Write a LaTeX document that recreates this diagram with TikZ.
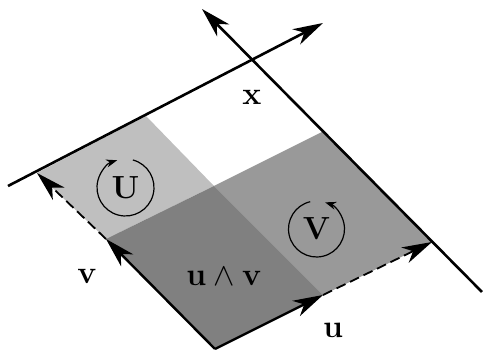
\documentclass[tikz,border=0pt]{standalone}
\usepackage{fix-cm}
\usepackage{tikz}
\usetikzlibrary{arrows.meta}

\begin{document}
\begin{tikzpicture}[
  x=1pt,y=1pt,
  axis/.style={line width=2.6pt,-{Stealth[length=30pt,width=17pt,inset=9pt]}},
  vec/.style={axis,line width=2.4pt},
  guide/.style={vec,line width=1.8pt,dash pattern=on 10pt off 5pt},
  spin/.style={line width=1.2pt,-{Stealth[length=11pt,width=8pt]}},
  lbl/.style={font=\fontsize{32}{38}\selectfont\bfseries}
]
  \useasboundingbox (0,0) rectangle (483,350);

  % corners of the plane pieces
  \coordinate (o)  at (215,1);
  \coordinate (ue) at (323,55);
  \coordinate (ve) at (106,111);
  \coordinate (mid) at (214,164);
  \coordinate (utop) at (146,234);
  \coordinate (uend) at (37,177);
  \coordinate (vtop) at (322,218);
  \coordinate (vend) at (432,108);
  % ends of the two long lines
  \coordinate (pa) at (8,164);
  \coordinate (pb) at (323,327);
  \coordinate (qa) at (482,58);
  \coordinate (qb) at (202,341);

  \fill[black!25] (ve) -- (mid) -- (utop) -- (uend) -- cycle;
  \fill[black!40] (ue) -- (mid) -- (vtop) -- (vend) -- cycle;
  \fill[black!50] (o) -- (ue) -- (mid) -- (ve) -- cycle;

  \draw[axis] (pa) -- (pb);
  \draw[axis] (qa) -- (qb);
  \draw[vec] (o) -- (ue);
  \draw[vec] (o) -- (ve);
  \draw[guide] (ue) -- (vend);
  \draw[guide] (ve) -- (uend);

  \node[lbl] (U) at (125.5,162.5) {U};
  \node[lbl] (V) at (316.5,121) {V};
  \draw[spin] ([shift={(75:28.5)}]U.center) arc[start angle=75,end angle=-253,radius=28.5];
  \draw[spin] ([shift={(103:28)}]V.center) arc[start angle=103,end angle=432,radius=28];

  \node[lbl] (x) at (252,253) {x};
  \node[lbl] (v) at (87,74) {v};
  \node[lbl] (u) at (333,20) {u};
  \node[lbl] (wedge) at (224,73) {$\mathbf{u}\wedge\mathbf{v}$};
\end{tikzpicture}
\end{document}
